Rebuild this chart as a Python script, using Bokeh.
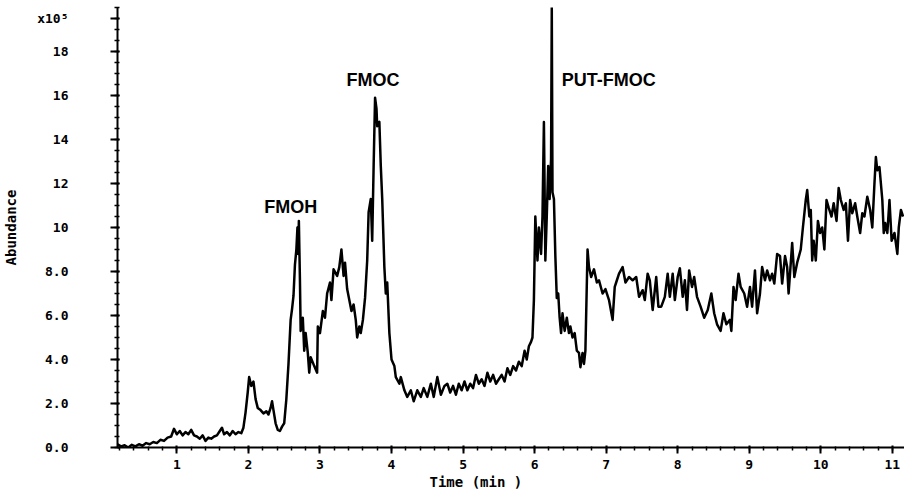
import numpy as np
from bokeh.plotting import figure
from bokeh.models import FixedTicker, Label, Range1d, Title
from bokeh.embed import file_html
from bokeh.resources import INLINE

# Total ion chromatogram: retention time (min) vs abundance (x10^5)
time_min = [
    0.17, 0.22, 0.27, 0.32, 0.37, 0.42, 0.47, 0.52, 0.57, 0.62, 0.67, 0.72, 0.77, 0.82, 0.87, 0.92,
    0.96, 1.00, 1.04, 1.08, 1.12, 1.16, 1.20, 1.24, 1.28, 1.32, 1.36, 1.40, 1.44, 1.48, 1.52, 1.56,
    1.60, 1.63, 1.66, 1.70, 1.74, 1.78, 1.82, 1.86, 1.90, 1.93, 1.96, 1.99, 2.01, 2.04, 2.07, 2.10,
    2.13, 2.17, 2.21, 2.25, 2.28, 2.31, 2.33, 2.35, 2.38, 2.41, 2.44, 2.47, 2.50, 2.53, 2.56, 2.59,
    2.61, 2.63, 2.65, 2.67, 2.685, 2.695, 2.705, 2.72, 2.73, 2.76, 2.78, 2.80, 2.83, 2.85, 2.87, 2.92,
    2.96, 2.97, 3.00, 3.04, 3.07, 3.10, 3.14, 3.16, 3.19, 3.24, 3.27, 3.30, 3.33, 3.35, 3.38, 3.41,
    3.44, 3.47, 3.50, 3.52, 3.55, 3.57, 3.60, 3.63, 3.66, 3.68, 3.71, 3.73, 3.75, 3.77, 3.79, 3.80,
    3.83, 3.85, 3.87, 3.90, 3.92, 3.94, 3.97, 4.00, 4.04, 4.06, 4.11, 4.13, 4.18, 4.22, 4.27, 4.31,
    4.36, 4.41, 4.45, 4.50, 4.55, 4.59, 4.64, 4.69, 4.74, 4.78, 4.82, 4.86, 4.90, 4.94, 4.98, 5.02,
    5.06, 5.10, 5.14, 5.18, 5.22, 5.26, 5.30, 5.34, 5.38, 5.42, 5.46, 5.50, 5.54, 5.58, 5.62, 5.66,
    5.70, 5.74, 5.78, 5.82, 5.86, 5.89, 5.92, 5.95, 5.97, 5.99, 6.01, 6.04, 6.06, 6.09, 6.11, 6.13,
    6.15, 6.17, 6.19, 6.21, 6.23, 6.24, 6.25, 6.27, 6.29, 6.31, 6.33, 6.35, 6.37, 6.39, 6.42, 6.45,
    6.48, 6.50, 6.53, 6.56, 6.59, 6.62, 6.64, 6.67, 6.69, 6.71, 6.74, 6.76, 6.79, 6.83, 6.87, 6.90,
    6.95, 6.99, 7.04, 7.09, 7.12, 7.14, 7.18, 7.23, 7.27, 7.32, 7.37, 7.42, 7.46, 7.51, 7.54, 7.58,
    7.61, 7.65, 7.70, 7.73, 7.77, 7.82, 7.86, 7.89, 7.93, 7.96, 8.00, 8.03, 8.07, 8.10, 8.13, 8.16,
    8.20, 8.23, 8.27, 8.32, 8.37, 8.42, 8.47, 8.51, 8.55, 8.60, 8.64, 8.68, 8.73, 8.75, 8.78, 8.81,
    8.85, 8.88, 8.93, 8.97, 9.01, 9.04, 9.08, 9.11, 9.15, 9.18, 9.22, 9.25, 9.29, 9.32, 9.35, 9.39,
    9.43, 9.46, 9.50, 9.53, 9.55, 9.57, 9.60, 9.63, 9.67, 9.72, 9.75, 9.79, 9.81, 9.84, 9.86, 9.88,
    9.90, 9.93, 9.96, 9.99, 10.02, 10.05, 10.08, 10.11, 10.15, 10.18, 10.22, 10.25, 10.28, 10.32, 10.35, 10.38,
    10.41, 10.44, 10.48, 10.51, 10.55, 10.58, 10.61, 10.65, 10.69, 10.72, 10.75, 10.77, 10.79, 10.82, 10.86, 10.88,
    10.90, 10.93, 10.96, 10.99, 11.03, 11.07, 11.09, 11.12, 11.15,
]
abundance = [
    0.15, 0.05, 0.10, 0.00, 0.12, 0.05, 0.15, 0.08, 0.20, 0.15, 0.25, 0.20, 0.35, 0.30, 0.45, 0.50,
    0.85, 0.60, 0.75, 0.55, 0.70, 0.60, 0.80, 0.55, 0.50, 0.40, 0.55, 0.30, 0.45, 0.40, 0.50, 0.55,
    0.75, 0.90, 0.60, 0.70, 0.55, 0.75, 0.60, 0.70, 0.65, 0.90, 1.60, 2.50, 3.20, 2.80, 3.00, 2.20,
    1.80, 1.70, 1.55, 1.65, 1.50, 1.80, 2.10, 1.70, 1.10, 0.80, 0.75, 0.95, 1.10, 2.20, 3.80, 5.80,
    6.30, 6.90, 8.30, 9.00, 10.00, 8.80, 10.30, 7.60, 5.30, 5.90, 4.40, 5.20, 4.30, 3.40, 4.10, 3.70,
    3.40, 5.50, 5.20, 6.20, 5.90, 7.00, 7.50, 6.70, 8.10, 7.80, 8.20, 9.00, 7.80, 8.40, 7.20, 6.70,
    6.20, 6.50, 5.80, 5.00, 5.50, 5.20, 5.80, 6.80, 8.50, 10.70, 11.30, 9.40, 12.80, 15.90, 15.40, 14.60,
    14.80, 12.80, 11.30, 8.20, 7.00, 7.50, 5.20, 4.00, 3.70, 3.20, 2.90, 3.20, 2.60, 2.30, 2.60, 2.10,
    2.60, 2.30, 2.70, 2.30, 2.90, 2.30, 3.20, 2.40, 2.80, 2.90, 2.50, 2.80, 2.40, 2.90, 2.60, 3.00,
    2.60, 2.90, 2.70, 3.30, 2.90, 3.10, 2.80, 3.40, 3.00, 3.30, 2.90, 3.10, 3.30, 3.00, 3.60, 3.30,
    3.70, 3.50, 3.90, 3.70, 4.40, 4.00, 4.60, 4.80, 5.00, 6.70, 10.50, 8.50, 10.00, 8.80, 10.50, 14.80,
    8.50, 10.50, 12.80, 11.30, 13.10, 20.00, 11.60, 11.30, 8.70, 6.80, 7.00, 5.90, 5.20, 6.10, 5.30, 5.90,
    5.20, 5.50, 5.00, 5.20, 4.40, 4.30, 3.65, 4.30, 3.80, 4.40, 9.00, 8.20, 7.75, 8.10, 7.50, 7.60,
    7.00, 7.20, 6.70, 5.80, 7.30, 7.50, 7.90, 8.20, 7.50, 7.75, 7.60, 7.75, 6.85, 7.15, 6.70, 7.90,
    7.60, 6.25, 7.75, 6.40, 6.40, 6.85, 7.90, 6.85, 7.90, 6.70, 7.75, 8.15, 6.85, 7.60, 6.25, 8.05,
    7.30, 7.75, 6.85, 6.40, 5.90, 6.25, 7.00, 6.10, 5.60, 5.30, 6.10, 5.60, 5.80, 5.30, 7.30, 6.70,
    7.90, 7.30, 7.00, 6.40, 7.30, 6.40, 8.05, 6.10, 7.00, 8.20, 7.60, 8.05, 7.60, 7.90, 7.45, 8.80,
    8.70, 7.45, 8.70, 8.20, 7.00, 7.90, 9.30, 7.75, 8.40, 9.00, 10.00, 11.25, 11.70, 10.50, 10.80, 8.50,
    9.40, 8.50, 10.30, 9.75, 10.00, 9.00, 11.25, 10.90, 10.50, 11.10, 10.30, 11.80, 11.25, 10.80, 11.10, 9.40,
    11.25, 10.65, 11.10, 10.50, 9.75, 10.65, 10.50, 11.40, 10.80, 10.00, 12.00, 13.20, 12.60, 12.75, 11.25, 9.75,
    10.20, 9.75, 11.25, 9.40, 9.75, 8.80, 10.00, 10.80, 10.50,
]

x_ticks = [1, 2, 3, 4, 5, 6, 7, 8, 9, 10, 11]
x_tick_labels = ["1", "2", "3", "4", "5", "6", "7", "8", "9", "10", "11"]
y_ticks = [0, 2, 4, 6, 8, 10, 12, 14, 16, 18, 19.5]
y_tick_labels = ["0.0", "2.0", "4.0", "6.0", "8.0", "10", "12", "14", "16", "18", "x10\u2075"]

peak_names = ["FMOH", "FMOC", "PUT-FMOC"]

MONO = "DejaVu Sans Mono"
SANS = "Liberation Sans"

p = figure(width=904, height=489, output_backend="svg", toolbar_location=None,
           x_range=Range1d(0.17, 11.17), y_range=Range1d(0, 20),
           min_border_left=117, min_border_right=0, min_border_top=7, min_border_bottom=42,
           title=None)
p.background_fill_color = "white"
p.border_fill_color = "white"
p.outline_line_color = None
p.xgrid.visible = False
p.ygrid.visible = False

p.line(time_min, abundance, line_color="black", line_width=2.5, line_join="round")

# axes styling
for ax in (p.xaxis[0], p.yaxis[0]):
    ax.axis_line_color = "black"
    ax.axis_line_width = 2
    ax.major_tick_line_color = "black"
    ax.major_tick_line_width = 2
    ax.minor_tick_line_color = "black"
    ax.minor_tick_line_width = 1.5
    ax.major_label_text_font = MONO
    ax.major_label_text_font_style = "bold"
    ax.major_label_text_font_size = "13px"
    ax.major_label_text_color = "black"

xa = p.xaxis[0]
xa.ticker = FixedTicker(ticks=x_ticks, minor_ticks=[round(0.2 * i, 1) for i in range(1, 56)])
xa.major_label_overrides = dict(zip(x_ticks, x_tick_labels))
xa.major_tick_out = 6
xa.major_tick_in = 2
xa.minor_tick_out = 3
xa.minor_tick_in = 1
xa.major_label_standoff = 6

ya = p.yaxis[0]
ya.ticker = FixedTicker(ticks=y_ticks, minor_ticks=[0.5 * i for i in range(0, 41)])
ya.major_label_overrides = dict(zip(y_ticks, y_tick_labels))
ya.major_tick_out = 7
ya.major_tick_in = 2
ya.minor_tick_out = 3
ya.minor_tick_in = 2
ya.major_label_standoff = 42
ya.axis_label = "Abundance"
ya.axis_label_standoff = 15
ya.axis_label_text_font = MONO
ya.axis_label_text_font_style = "bold"
ya.axis_label_text_font_size = "14px"
ya.axis_label_text_color = "black"

# x axis title, placed below the axis
p.add_layout(Title(text="Time (min )", align="left", offset=312, standoff=0,
                   text_font=MONO, text_font_style="bold", text_font_size="14px",
                   text_color="black"), "below")

# peak annotations
for name, lx, ly in zip(peak_names, [2.22, 3.37, 6.38], [10.93, 16.72, 16.72]):
    p.add_layout(Label(x=lx, y=ly, text=name, text_font=SANS, text_font_style="bold",
                       text_font_size="18px", text_align="left", text_baseline="alphabetic",
                       text_color="black"))

open("out.html", "w").write(file_html(p, INLINE))
